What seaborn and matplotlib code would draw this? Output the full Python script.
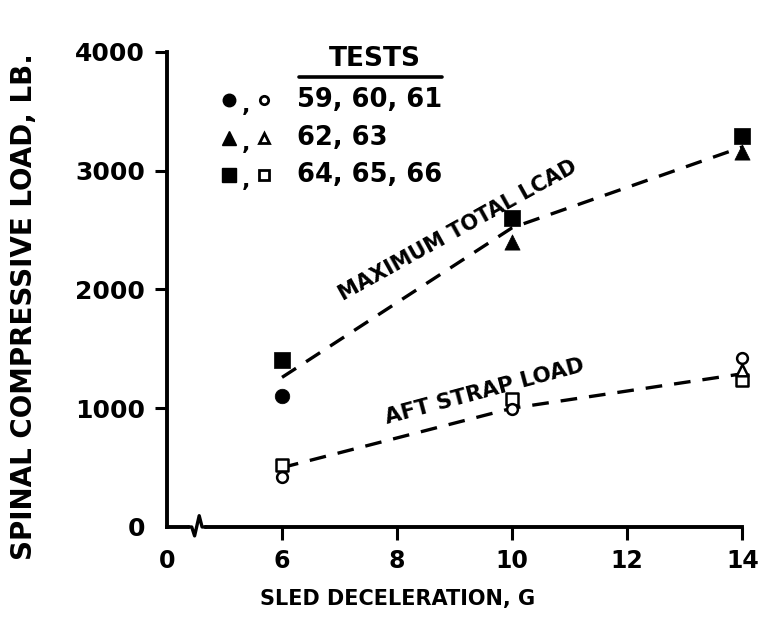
import matplotlib
matplotlib.use("Agg")
import matplotlib.pyplot as plt
import seaborn as sns
import pandas as pd

# sled deceleration, G
accel = [6, 10, 14]

# maximum total load, lb
total_circle = [1100]            # tests 59, 60, 61 (6 G only)
total_triangle = [2400, 3160]    # tests 62, 63 (10 and 14 G)
total_square = [1410, 2600, 3290]
total_fit = [1260, 2520, 3200]

# aft strap load, lb
aft_circle = [420, 990, 1420]
aft_triangle = [1320]            # 14 G
aft_square = [520, 1080, 1240]
aft_fit = [500, 1000, 1290]

xticks = [4, 6, 8, 10, 12, 14]
xtick_labels = ["0", "6", "8", "10", "12", "14"]
yticks = [0, 1000, 2000, 3000, 4000]
ytick_labels = ["0", "1000", "2000", "3000", "4000"]

sns.set_style("ticks")
plt.rcParams["font.family"] = ["DejaVu Sans"]
plt.rcParams["font.weight"] = "bold"
for key in ["text.color", "axes.labelcolor", "xtick.color", "ytick.color",
            "axes.edgecolor"]:
    plt.rcParams[key] = "black"

fig = plt.figure(figsize=(7.59, 6.33), dpi=100)
ax = fig.add_axes([0.220, 0.1675, 0.758, 0.7504])

fit = pd.DataFrame({
    "g": accel * 2,
    "load": total_fit + aft_fit,
    "curve": ["total"] * 3 + ["aft"] * 3,
})
sns.lineplot(data=fit, x="g", y="load", units="curve", estimator=None,
             color="black", lw=2.4, linestyle=(0, (5, 3.6)), ax=ax)
for line in ax.lines:
    line.set_clip_on(False)

def pts(xs, ys, marker, filled, size):
    sns.scatterplot(x=xs, y=ys, marker=marker, s=size,
                    facecolor="black" if filled else "white",
                    edgecolor="black", linewidth=1.8 if not filled else 0.5,
                    clip_on=False, zorder=5, ax=ax)

pts(accel[:1], total_circle, "o", True, 110)
pts(accel[1:], total_triangle, "^", True, 120)
pts(accel, total_square, "s", True, 130)
pts(accel, aft_square, "s", False, 80)
pts(accel, aft_circle, "o", False, 60)
pts(accel[2:], aft_triangle, "^", False, 70)

ax.set_xlim(4, 14)
ax.set_ylim(0, 4000)
ax.set_xticks(xticks)
ax.set_xticklabels(xtick_labels)
ax.set_yticks(yticks)
ax.set_yticklabels(ytick_labels)
ax.xaxis.get_major_ticks()[0].tick1line.set_visible(False)
ax.yaxis.get_major_ticks()[0].tick1line.set_visible(False)
ax.tick_params(axis="both", width=2.2, length=9, pad=7)
ax.tick_params(axis="y", labelsize=18)
ax.tick_params(axis="x", labelsize=17)
for lab in ax.get_xticklabels() + ax.get_yticklabels():
    lab.set_fontweight("bold")
sns.despine(ax=ax)
for side in ["left", "bottom"]:
    ax.spines[side].set_linewidth(2.8)
ax.set_xlabel("SLED DECELERATION, G", fontsize=15, fontweight="bold")
ax.xaxis.set_label_coords(0.40, -0.13)
ax.set_ylabel("SPINAL COMPRESSIVE LOAD, LB.", fontsize=20, fontweight="bold")
ax.yaxis.set_label_coords(-0.225, 0.465)

# axis break squiggle near the origin
ax.plot([4.43, 4.61], [0, 0], color="white", lw=4, clip_on=False, zorder=5.5)
ax.plot([4.38, 4.43, 4.48, 4.56, 4.61, 4.68], [0, 0, -75, 95, 0, 0],
        color="black", lw=2.4, clip_on=False, zorder=6)

ax.text(9.05, 2500, "MAXIMUM TOTAL LCAD", rotation=29, ha="center", va="center",
        fontsize=15, fontweight="bold", rotation_mode="anchor")
ax.text(9.52, 1140, "AFT STRAP LOAD", rotation=15, ha="center", va="center",
        fontsize=15.5, fontweight="bold", rotation_mode="anchor")

# key
tr = ax.transAxes
ax.text(0.361, 0.985, "TESTS", transform=tr, ha="center", va="center",
        fontsize=19, fontweight="bold")
ax.plot([0.229, 0.478], [0.947, 0.947], transform=tr, color="black", lw=2.6,
        clip_on=False)
rows = [("o", "59, 60, 61", 0.899, 9, 6),
        ("^", "62, 63", 0.819, 10, 6.5),
        ("s", "64, 65, 66", 0.741, 10, 7.5)]
for mk, label, y, s_fill, s_open in rows:
    ax.plot([0.108], [y], marker=mk, ms=s_fill, color="black", transform=tr,
            clip_on=False)
    ax.text(0.1376, y - 0.012, ",", transform=tr, ha="center", va="center",
            fontsize=16, fontweight="bold")
    ax.plot([0.169], [y], marker=mk, ms=s_open, mfc="white", mec="black",
            mew=2.0, transform=tr, clip_on=False)
    ax.text(0.2255, y, label, transform=tr, ha="left", va="center",
            fontsize=18.5, fontweight="bold")

fig.savefig("out.png", dpi=100)
